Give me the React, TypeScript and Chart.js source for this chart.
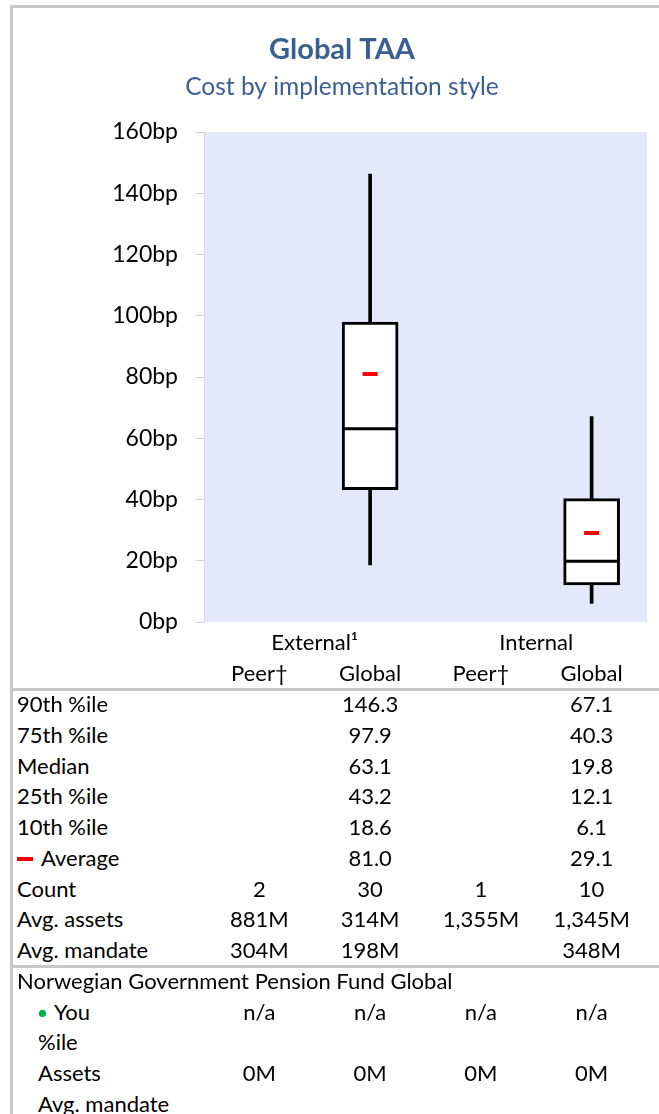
import React, { useEffect, useRef, useState } from 'react';
import { Chart, registerables } from 'chart.js';

Chart.register(...registerables);

const FONT = 'Lato, "Open Sans", sans-serif';

// ---- data ----
const categories = ['Peer†', 'Global', 'Peer†', 'Global'];
const groups = ['External¹', 'Internal'];
const yTickUnit = 'bp';
const yMin = 0;
const yMax = 160;
const yStep = 20;

const p90: (number | null)[] = [null, 146.3, null, 67.1];
const p75: (number | null)[] = [null, 97.9, null, 40.3];
const median: (number | null)[] = [null, 63.1, null, 19.8];
const p25: (number | null)[] = [null, 43.2, null, 12.1];
const p10: (number | null)[] = [null, 18.6, null, 6.1];
const average: (number | null)[] = [null, 81.0, null, 29.1];

const count = ['2', '30', '1', '10'];
const avgAssets = ['881M', '314M', '1,355M', '1,345M'];
const avgMandate = ['304M', '198M', '', '348M'];
const fundName = 'Norwegian Government Pension Fund Global';
const youValues = ['n/a', 'n/a', 'n/a', 'n/a'];
const youPercentile = ['', '', '', ''];
const youAssets = ['0M', '0M', '0M', '0M'];
const youMandate = ['', '', '', ''];

// ---- layout constants ----
const PAD_LEFT = 37;
const PLOT_LEFT = 204;
const PLOT_RIGHT = 647;
const CANVAS_W = 677;
const CANVAS_H = 690;
const ROW_TOP = 704;
const ROW_STEP = 30.77;
const TITLE_COLOR = '#3B5E93';
const FRAME = '#C8C8C8';

const fmt = (v: number | null) => (v == null ? '' : v.toFixed(1));

const colCenter = (i: number) =>
  PLOT_LEFT + ((i + 0.5) * (PLOT_RIGHT - PLOT_LEFT)) / categories.length;

type Row = { label: string; values: string[]; indent?: boolean; marker?: 'avg' | 'you' };

const rows1: Row[] = [
  { label: '90th %ile', values: p90.map(fmt) },
  { label: '75th %ile', values: p75.map(fmt) },
  { label: 'Median', values: median.map(fmt) },
  { label: '25th %ile', values: p25.map(fmt) },
  { label: '10th %ile', values: p10.map(fmt) },
  { label: 'Average', values: average.map(fmt), marker: 'avg' },
  { label: 'Count', values: count },
  { label: 'Avg. assets', values: avgAssets },
  { label: 'Avg. mandate', values: avgMandate },
  { label: fundName, values: ['', '', '', ''] },
  { label: 'You', values: youValues, indent: true, marker: 'you' },
  { label: '%ile', values: youPercentile, indent: true },
  { label: 'Assets', values: youAssets, indent: true },
  { label: 'Avg. mandate', values: youMandate, indent: true },
];

const bgPlugin = {
  id: 'plotBg',
  beforeDraw(chart: any) {
    const { ctx, chartArea } = chart;
    ctx.save();
    ctx.fillStyle = '#E3E9FB';
    ctx.fillRect(chartArea.left, chartArea.top, chartArea.right - chartArea.left, chartArea.bottom - chartArea.top);
    ctx.restore();
  },
};

const zeroPad = (s: any) => {
  s.paddingLeft = 0;
  s.paddingRight = 0;
  s.paddingTop = 0;
  s.paddingBottom = 0;
};

function BoxChart() {
  const ref = useRef<HTMLCanvasElement | null>(null);
  const [dbg, setDbg] = useState('');
  useEffect(() => {
    if (!ref.current) return;
    const font = { family: FONT, size: 22 };
    const chart = new Chart(ref.current, {
      type: 'bar',
      data: {
        labels: categories,
        datasets: [
          {
            type: 'line',
            label: 'Average',
            data: average,
            showLine: false,
            pointStyle: 'line',
            pointRadius: 7.5,
            pointBorderWidth: 4,
            pointBorderColor: '#FF0000',
            pointBackgroundColor: '#FF0000',
            order: 0,
          } as any,
          {
            type: 'line',
            label: 'Median',
            data: median,
            showLine: false,
            pointStyle: 'line',
            pointRadius: 27,
            pointBorderWidth: 3,
            pointBorderColor: '#000000',
            pointBackgroundColor: '#000000',
            order: 1,
          } as any,
          {
            type: 'bar',
            label: 'Box',
            data: categories.map((_, i) => (p25[i] == null ? null : [p25[i], p75[i]])),
            backgroundColor: '#FFFFFF',
            borderColor: '#000000',
            borderWidth: 3,
            borderSkipped: false,
            barThickness: 56,
            grouped: false,
            order: 2,
          } as any,
          {
            type: 'bar',
            label: 'Whisker',
            data: categories.map((_, i) => (p10[i] == null ? null : [p10[i], p90[i]])),
            backgroundColor: '#000000',
            borderWidth: 0,
            barThickness: 3,
            grouped: false,
            order: 3,
          } as any,
        ],
      },
      options: {
        animation: false,
        responsive: false,
        layout: { padding: { left: PAD_LEFT, right: CANVAS_W - PLOT_RIGHT, top: 0, bottom: 0 } },
        plugins: {
          legend: { display: false },
          tooltip: { enabled: false },
          title: {
            display: true,
            text: 'Global TAA',
            color: TITLE_COLOR,
            font: { family: FONT, size: 29, weight: 'bold' },
            padding: { top: 32.6, bottom: 4.9 },
          },
          subtitle: {
            display: true,
            text: 'Cost by implementation style',
            color: TITLE_COLOR,
            font: { family: FONT, size: 24.5 },
            padding: { top: 0, bottom: 30.3 },
          },
        },
        scales: {
          y: {
            min: yMin,
            max: yMax,
            ticks: {
              stepSize: yStep,
              color: '#000000',
              font: { family: FONT, size: 23 },
              padding: 18,
              callback: (v: any) => `${v}${yTickUnit}`,
            },
            grid: { drawOnChartArea: false, tickLength: 8, color: '#D0D0D0' },
            border: { display: true, color: '#D9D9D9', width: 1 },
            afterFit: (s: any) => {
              s.width = PLOT_LEFT - PAD_LEFT;
              zeroPad(s);
            },
          },
          x: {
            position: 'bottom',
            weight: 1,
            grid: { display: false, drawTicks: false },
            border: { display: false },
            ticks: { color: '#000000', font, padding: 4.6, autoSkip: false, maxRotation: 0, minRotation: 0 },
            afterFit: (s: any) => {
              s.height = 33.8;
              zeroPad(s);
            },
          },
          x2: {
            type: 'category',
            labels: groups,
            position: 'bottom',
            weight: 0,
            offset: true,
            grid: { display: false, drawTicks: false },
            border: { display: false },
            ticks: { color: '#000000', font, padding: 7.8, autoSkip: false, maxRotation: 0, minRotation: 0 },
            afterFit: (s: any) => {
              s.height = 34.2;
              zeroPad(s);
            },
          },
        },
      } as any,
      plugins: [bgPlugin],
    });
    const ca = chart.chartArea;
    if (Math.abs(ca.right - PLOT_RIGHT) > 1 || Math.abs(ca.left - PLOT_LEFT) > 1) {
      setDbg(`area ${ca.left},${ca.right},${ca.top},${ca.bottom}`);
    }
    return () => chart.destroy();
  }, []);
  return (
    <>
      <canvas
        ref={ref}
        width={CANVAS_W}
        height={CANVAS_H}
        style={{ position: 'absolute', left: 0, top: 0, width: CANVAS_W, height: CANVAS_H }}
      />
      {dbg && (
        <div style={{ position: 'absolute', left: 20, top: 140, width: 170, fontSize: 11, fontFamily: 'sans-serif', background: '#ff0', zIndex: 5 }}>
          {dbg}
        </div>
      )}
    </>
  );
}

export default function App() {
  const textStyle: React.CSSProperties = {
    fontFamily: FONT,
    fontSize: 22,
    lineHeight: '26px',
    color: '#000',
    whiteSpace: 'nowrap',
  };
  return (
    <div
      style={{
        position: 'absolute',
        left: 0,
        top: 0,
        width: 659,
        height: 1114,
        overflow: 'hidden',
        background: '#fff',
      }}
    >
      <div
        style={{
          position: 'absolute',
          left: 10,
          top: 5,
          width: 700,
          height: 1200,
          borderLeft: `3px solid ${FRAME}`,
          borderTop: `3px solid ${FRAME}`,
          boxSizing: 'border-box',
        }}
      />
      <BoxChart />
      <div style={{ position: 'absolute', left: 13, top: 688, width: 646, height: 3, background: FRAME }} />
      <div style={{ position: 'absolute', left: 13, top: 965, width: 646, height: 3, background: FRAME }} />
      {rows1.map((r, ri) => {
        const cy = ROW_TOP + ri * ROW_STEP;
        const left = r.indent ? 38 : 17;
        return (
          <React.Fragment key={ri}>
            <div style={{ ...textStyle, position: 'absolute', left, top: cy - 13, height: 26 }}>
              {r.marker === 'avg' && (
                <span
                  style={{
                    display: 'inline-block',
                    width: 16,
                    height: 4,
                    background: '#FF0000',
                    verticalAlign: 'middle',
                    marginRight: 8,
                    marginTop: -2,
                  }}
                />
              )}
              {r.marker === 'you' && (
                <span style={{ color: '#00B050', fontSize: 15, marginRight: 7, verticalAlign: 'middle', position: 'relative', top: -2 }}>●</span>
              )}
              {r.label}
            </div>
            {r.values.map((v, ci) => (
              <div
                key={ci}
                style={{
                  ...textStyle,
                  position: 'absolute',
                  left: colCenter(ci) - 60,
                  width: 120,
                  textAlign: 'center',
                  top: cy - 13,
                  height: 26,
                }}
              >
                {v}
              </div>
            ))}
          </React.Fragment>
        );
      })}
    </div>
  );
}
